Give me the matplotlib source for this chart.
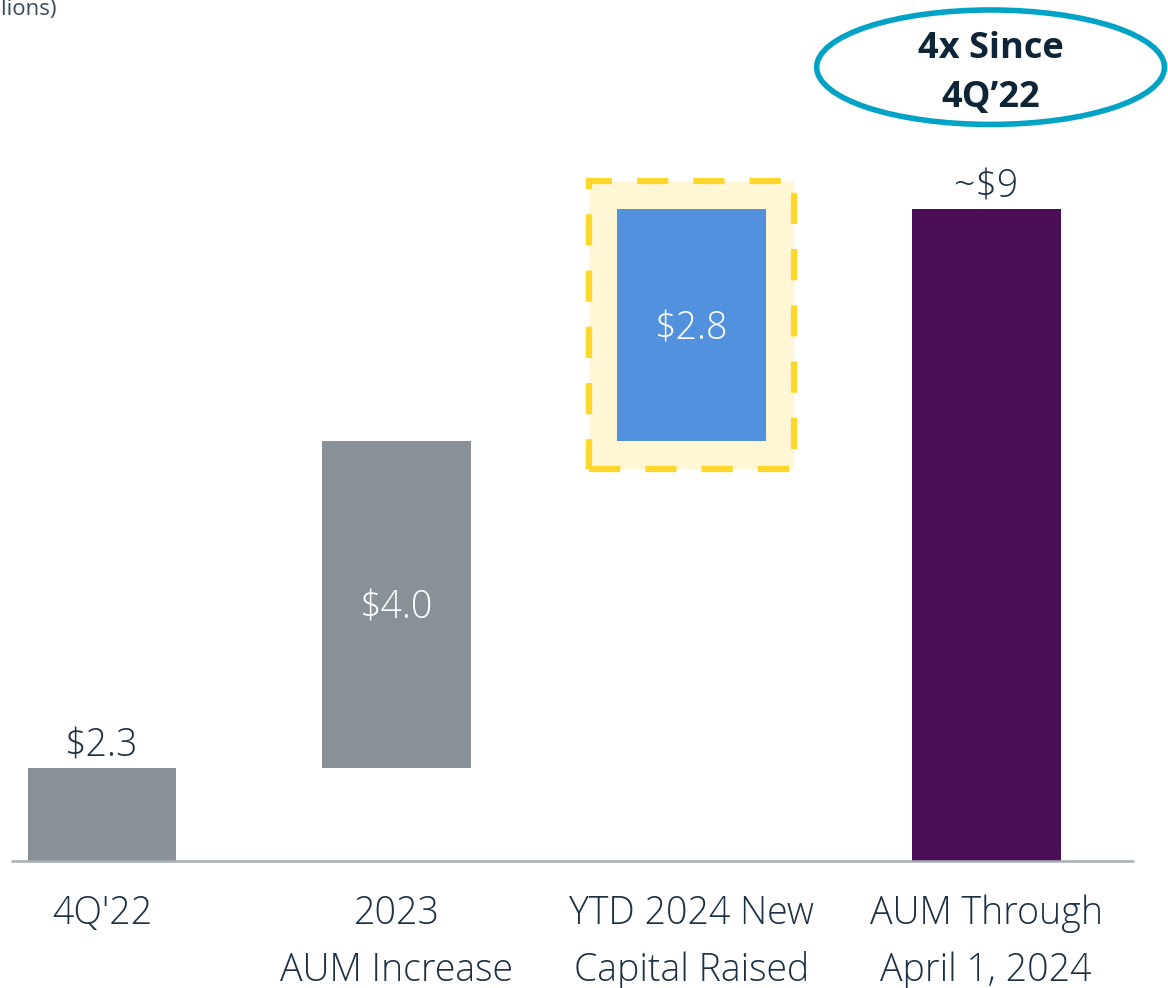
"""AUM waterfall: 4Q'22 -> 2023 increase -> YTD 2024 raise -> AUM at April 1, 2024."""

import matplotlib

matplotlib.use("Agg")
import matplotlib.pyplot as plt
from matplotlib.patches import Ellipse, Rectangle

OUT = "out.png"

# categories and the printed labels
CATEGORIES = ["4Q'22", "2023\nAUM Increase", "YTD 2024 New\nCapital Raised",
              "AUM Through\nApril 1, 2024"]
VALUE_LABELS = ["$2.3", "$4.0", "$2.8", "~$9"]
# drawn heights (the slide is not to scale, so these are read off the bars)
STEP_HEIGHTS = [1.14, 4.0, 2.83]

C_GREY = "#879197"
C_BLUE = "#5291DD"
C_PURPLE = "#4A0F57"
C_TEXT = "#1C3144"
C_LINE = "#A7AFB5"
C_YELLOW = "#FFD72A"
C_YELLOW_FILL = "#FFF6D6"
C_TEAL = "#00A2C6"

FONT = "Open Sans"


def main():
    W, H, DPI = 1168, 988, 100
    fig = plt.figure(figsize=(W / DPI, H / DPI), dpi=DPI)
    ax = fig.add_axes([0, 0, 1, 1])
    ax.set_xlim(-0.346, 3.617)
    ax.set_ylim(-1.553, 10.532)
    ax.axis("off")

    width = 0.505
    bottoms = [0, STEP_HEIGHTS[0], STEP_HEIGHTS[0] + STEP_HEIGHTS[1]]
    total = sum(STEP_HEIGHTS)
    heights = STEP_HEIGHTS + [total]
    bottoms = bottoms + [0]
    colors = [C_GREY, C_GREY, C_BLUE, C_PURPLE]
    xs = list(range(len(CATEGORIES)))

    # highlight box behind the YTD bar
    px, py = 28 / 294.7, 28 / 81.75
    ax.add_patch(Rectangle((xs[2] - width / 2 - px, bottoms[2] - py),
                           width + 2 * px, heights[2] + 2 * py,
                           facecolor=C_YELLOW_FILL, edgecolor=C_YELLOW,
                           lw=4.5, ls=(0, (5, 4)), zorder=1))

    ax.bar(xs, heights, width, bottom=bottoms, color=colors, zorder=3)
    ax.hlines(0, -0.31, 3.5, color=C_LINE, lw=1.8, zorder=4)

    # value labels: above for the ends, inside for the steps
    for i, (x, b, h, lab) in enumerate(zip(xs, bottoms, heights, VALUE_LABELS)):
        if i in (0, 3):
            ax.annotate(lab, (x, b + h), textcoords="offset points",
                        xytext=(0, 2), ha="center", va="bottom",
                        fontsize=27, color=C_TEXT, family=FONT,
                        fontweight="light")
        else:
            ax.annotate(lab, (x, b + h / 2), textcoords="offset points",
                        xytext=(0, -3), ha="center", va="center", fontsize=27,
                        color="white", family=FONT, fontweight="light",
                        zorder=5)

    for x, cat in zip(xs, CATEGORIES):
        ax.annotate(cat, (x, 0), textcoords="offset points", xytext=(0, -24),
                    ha="center", va="top", fontsize=27, color=C_TEXT,
                    family=FONT, fontweight="light", linespacing=1.62)

    # callout above the total bar
    ax.add_patch(Ellipse((3.015, 9.71), 1.18, 1.40, facecolor="none",
                         edgecolor=C_TEAL, lw=4, zorder=5, clip_on=False))
    ax.text(3.015, 9.63, "4x Since\n4Q\u201922", ha="center", va="center",
            fontsize=26, fontweight="bold", color="#0D2537", family=FONT,
            linespacing=1.5, zorder=6)

    fig.text(56 / W, 973 / H, "($ in billions)", ha="right", va="baseline",
             fontsize=16, color="#3A4A58", family=FONT)

    fig.savefig(OUT, dpi=DPI)


if __name__ == "__main__":
    main()
